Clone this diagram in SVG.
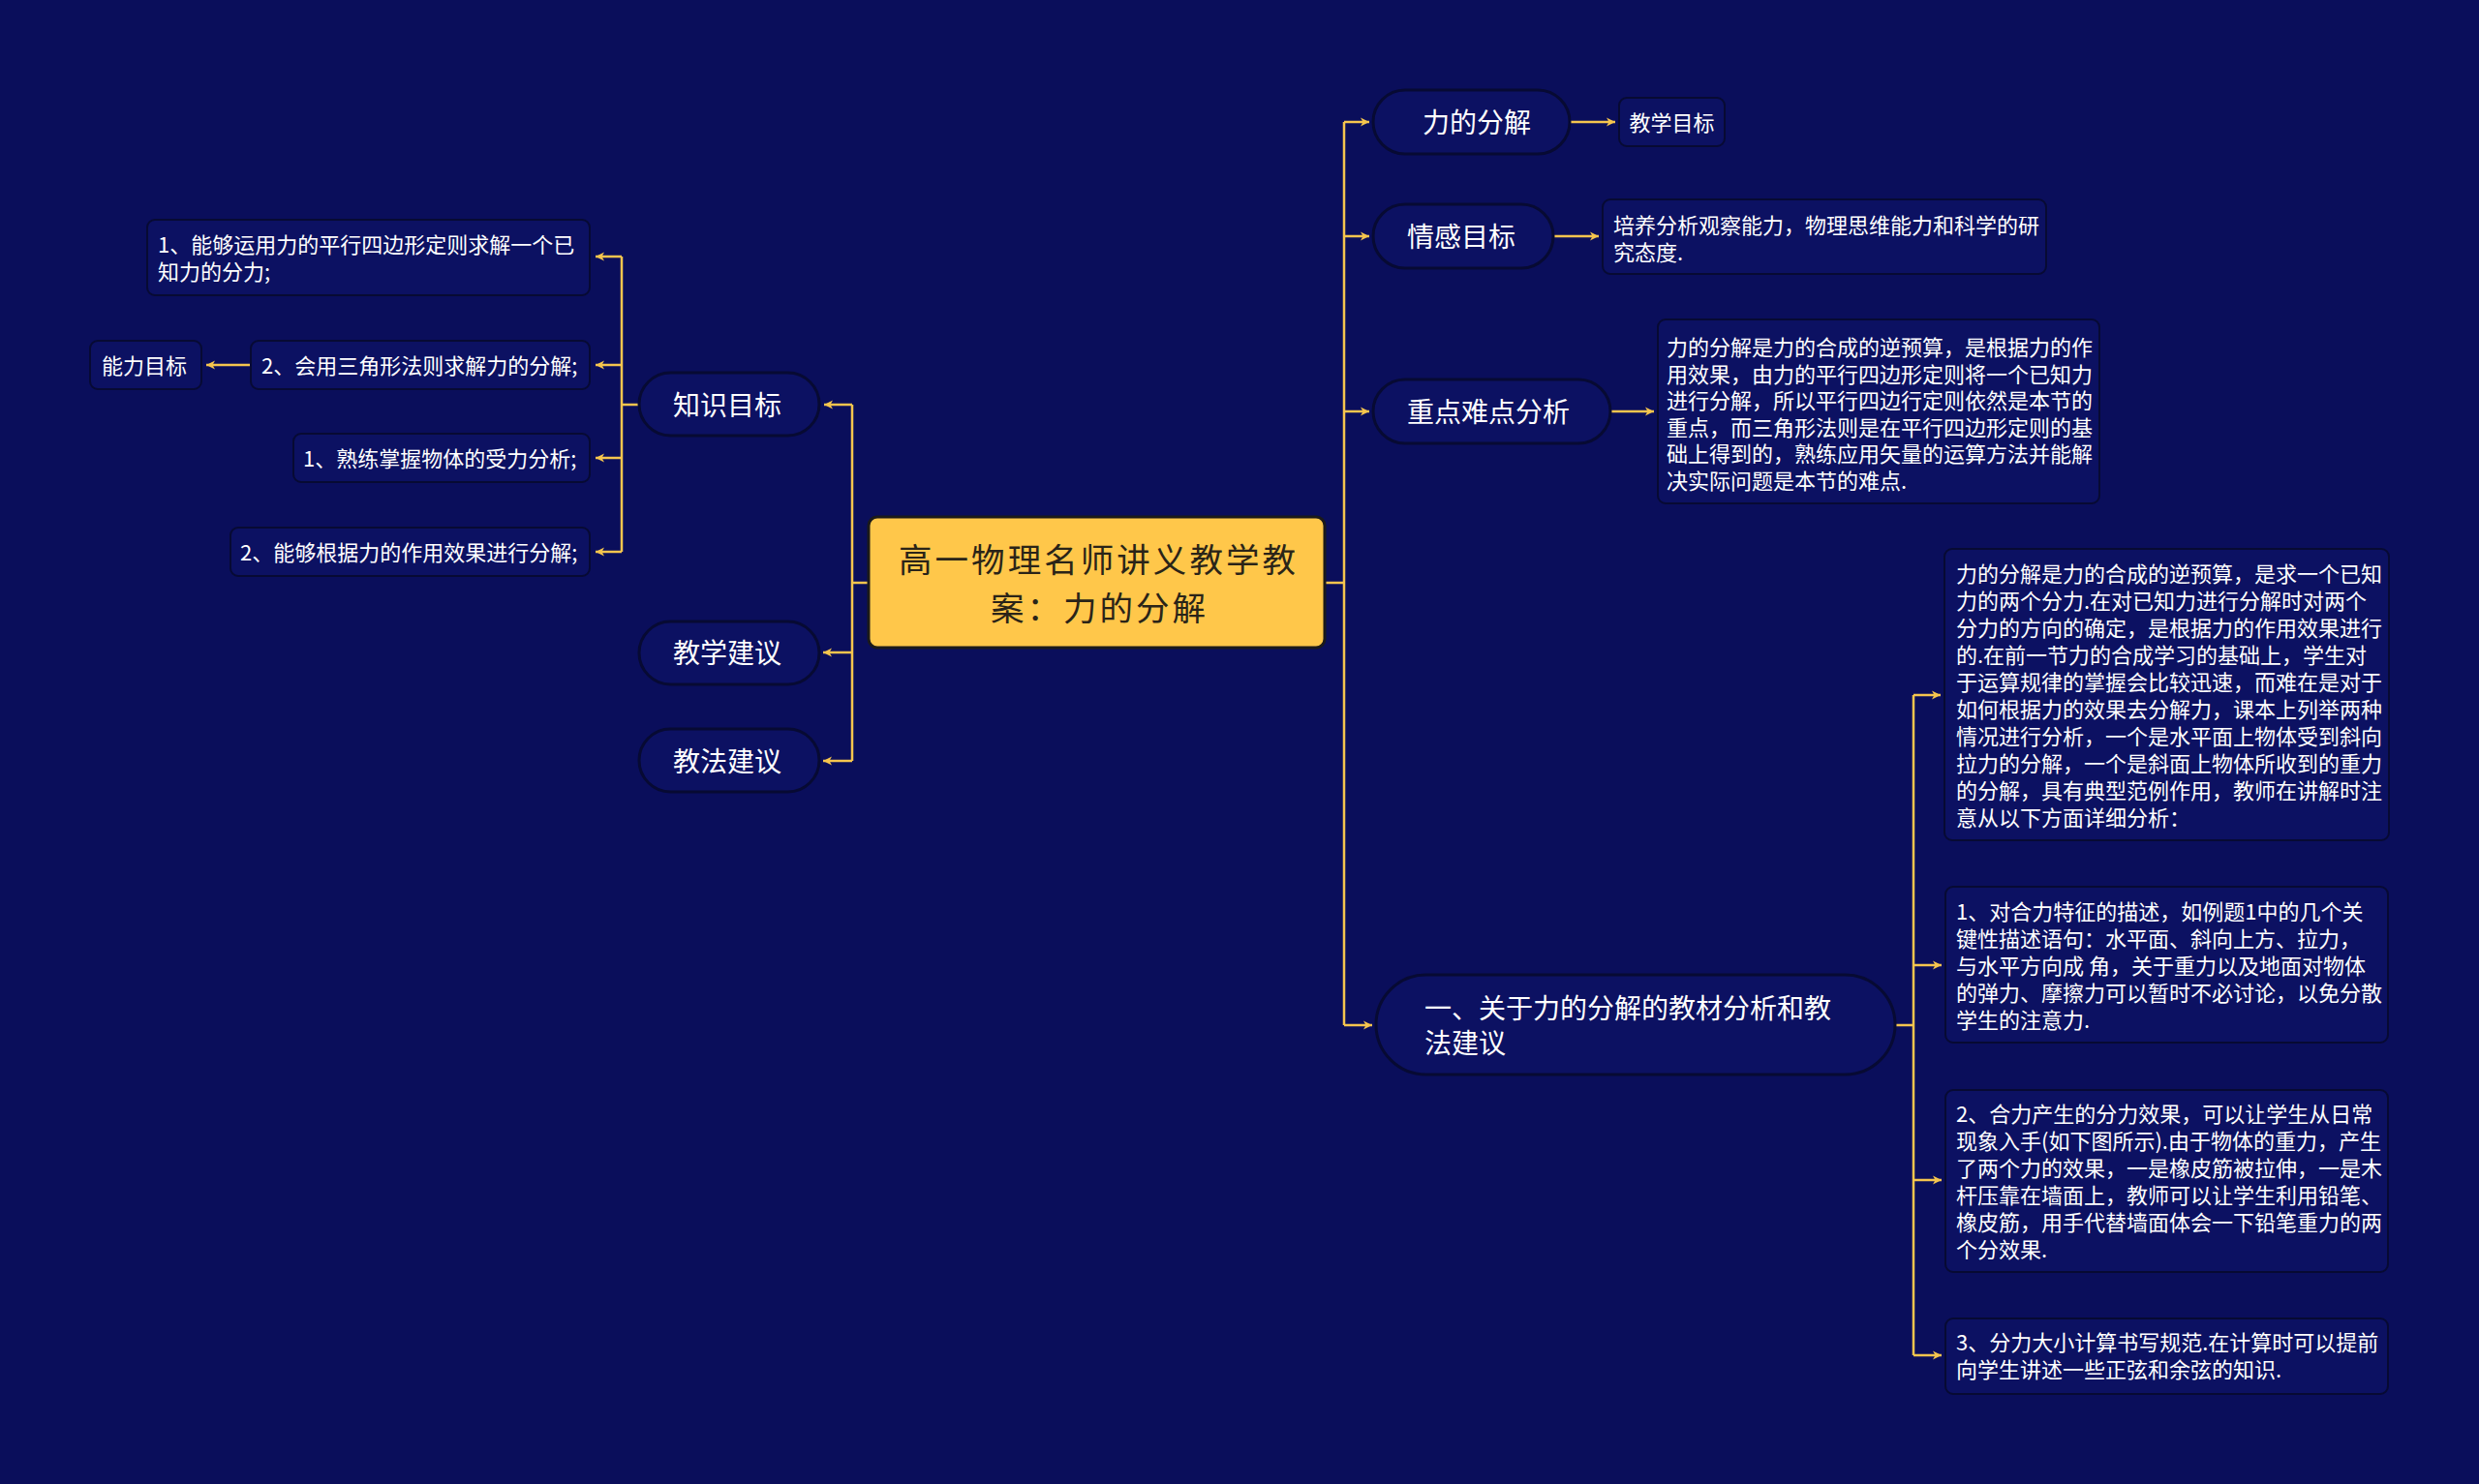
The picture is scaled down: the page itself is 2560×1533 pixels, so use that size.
<svg xmlns="http://www.w3.org/2000/svg" width="2560" height="1533" viewBox="0 0 2560 1533">
<defs>
<style>
text{font-family:"Noto Sans CJK SC","Microsoft YaHei",sans-serif;fill:#ffffff;dominant-baseline:central}
.pill{fill:#0c1162;stroke:#070a33;stroke-width:3}
.leaf{fill:#0c1162;stroke:#070a33;stroke-width:2}
.main{fill:#ffc74a;stroke:#1b1a1a;stroke-width:3}
.pt{font-size:28px;text-anchor:middle}
.ps{font-size:28px;text-anchor:start}
.lt{font-size:22px}
.mt{font-size:34.5px;text-anchor:middle;fill:#2a2418}
.c{fill:none;stroke:#f5c54e;stroke-width:2.5}
.a{fill:none;stroke:#f5c54e;stroke-width:2.5;marker-end:url(#arr)}
</style>
<marker id="arr" markerUnits="userSpaceOnUse" markerWidth="12" markerHeight="12" refX="10" refY="6" orient="auto">
<path d="M1,1.5 L10,6 L1,10.5 L3.5,6 Z" fill="#f5c54e"/>
</marker>
</defs>
<rect width="2560" height="1533" fill="#0a0e5b"/>

<g id="connectors">
<path class="c" d="M897 602 H880 M880 418 V786"/>
<path class="a" d="M880 418 H851"/>
<path class="a" d="M880 674 H850"/>
<path class="a" d="M880 786 H850"/>
<path class="c" d="M660 418 H642 M642 265 V570"/>
<path class="a" d="M642 265 H615"/>
<path class="a" d="M642 377 H615"/>
<path class="a" d="M642 473 H615"/>
<path class="a" d="M642 570 H615"/>
<path class="a" d="M259 377 H213"/>
<path class="c" d="M1368 602 H1388 M1388 126 V1059"/>
<path class="a" d="M1388 126 H1414"/>
<path class="a" d="M1388 244 H1414"/>
<path class="a" d="M1388 425 H1414"/>
<path class="a" d="M1388 1059 H1417"/>
<path class="a" d="M1621 126 H1668"/>
<path class="a" d="M1604 244 H1651"/>
<path class="a" d="M1663 425 H1708"/>
<path class="c" d="M1957 1059 H1976 M1976 718 V1400"/>
<path class="a" d="M1976 718 H2004"/>
<path class="a" d="M1976 997 H2005"/>
<path class="a" d="M1976 1219 H2005"/>
<path class="a" d="M1976 1400 H2005"/>
</g>

<g id="root">
<rect class="main" x="897" y="534" width="471" height="135" rx="9"/>
<text class="mt" x="1133" y="576" textLength="410" lengthAdjust="spacing">高一物理名师讲义教学教</text>
<text class="mt" x="1134" y="626" textLength="222" lengthAdjust="spacing">案：力的分解</text>
</g>

<g id="zhishimubiao">
<rect class="pill" x="660" y="385" width="186" height="65" rx="32.5"/>
<text class="pt" x="751" y="417">知识目标</text>
</g>
<g id="jiaoxuejianyi">
<rect class="pill" x="660" y="642" width="186" height="65" rx="32.5"/>
<text class="pt" x="751" y="673">教学建议</text>
</g>
<g id="jiaofajianyi">
<rect class="pill" x="660" y="753" width="186" height="65" rx="32.5"/>
<text class="pt" x="751" y="785">教法建议</text>
</g>

<g id="k1">
<rect class="leaf" x="152" y="227" width="457" height="78" rx="8"/>
<text class="lt" x="163" y="251">1、能够运用力的平行四边形定则求解一个已</text>
<text class="lt" x="163" y="279">知力的分力;</text>
</g>
<g id="k2">
<rect class="leaf" x="259" y="352" width="350" height="50" rx="8"/>
<text class="lt" x="270" y="376">2、会用三角形法则求解力的分解;</text>
</g>
<g id="nengli">
<rect class="leaf" x="93" y="352" width="115" height="50" rx="8"/>
<text class="lt" x="149" y="376" text-anchor="middle">能力目标</text>
</g>
<g id="k3">
<rect class="leaf" x="303" y="448" width="306" height="50" rx="8"/>
<text class="lt" x="313" y="472">1、熟练掌握物体的受力分析;</text>
</g>
<g id="k4">
<rect class="leaf" x="238" y="545" width="371" height="50" rx="8"/>
<text class="lt" x="248" y="569">2、能够根据力的作用效果进行分解;</text>
</g>

<g id="lidefenjie">
<rect class="pill" x="1418" y="93" width="203" height="66" rx="33"/>
<text class="pt" x="1525" y="125">力的分解</text>
</g>
<g id="jiaoxuemubiao">
<rect class="leaf" x="1672" y="101" width="109" height="50" rx="8"/>
<text class="lt" x="1726.5" y="125" text-anchor="middle">教学目标</text>
</g>

<g id="qinggan">
<rect class="pill" x="1418" y="211" width="186" height="66" rx="33"/>
<text class="pt" x="1509" y="243">情感目标</text>
</g>
<g id="qinggan-leaf">
<rect class="leaf" x="1655" y="206" width="458" height="77" rx="8"/>
<text class="lt" x="1666" y="231">培养分析观察能力，物理思维能力和科学的研</text>
<text class="lt" x="1666" y="259">究态度.</text>
</g>

<g id="zhongdian">
<rect class="pill" x="1418" y="392" width="245" height="66" rx="33"/>
<text class="pt" x="1537" y="424">重点难点分析</text>
</g>
<g id="zhongdian-leaf">
<rect class="leaf" x="1712" y="330" width="456" height="190" rx="8"/>
<text class="lt" x="1721" y="357">力的分解是力的合成的逆预算，是根据力的作</text>
<text class="lt" x="1721" y="384.5">用效果，由力的平行四边形定则将一个已知力</text>
<text class="lt" x="1721" y="412">进行分解，所以平行四边行定则依然是本节的</text>
<text class="lt" x="1721" y="439.5">重点，而三角形法则是在平行四边形定则的基</text>
<text class="lt" x="1721" y="467">础上得到的，熟练应用矢量的运算方法并能解</text>
<text class="lt" x="1721" y="494.5">决实际问题是本节的难点.</text>
</g>

<g id="jiaocai">
<rect class="pill" x="1421" y="1007" width="536" height="103" rx="51.5"/>
<text class="ps" x="1471" y="1040">一、关于力的分解的教材分析和教</text>
<text class="ps" x="1471" y="1076">法建议</text>
</g>
<g id="r1">
<rect class="leaf" x="2008" y="567" width="459" height="301" rx="8"/>
<text class="lt" x="2020" y="591">力的分解是力的合成的逆预算，是求一个已知</text>
<text class="lt" x="2020" y="619">力的两个分力.在对已知力进行分解时对两个</text>
<text class="lt" x="2020" y="647">分力的方向的确定，是根据力的作用效果进行</text>
<text class="lt" x="2020" y="675">的.在前一节力的合成学习的基础上，学生对</text>
<text class="lt" x="2020" y="703">于运算规律的掌握会比较迅速，而难在是对于</text>
<text class="lt" x="2020" y="731">如何根据力的效果去分解力，课本上列举两种</text>
<text class="lt" x="2020" y="759">情况进行分析，一个是水平面上物体受到斜向</text>
<text class="lt" x="2020" y="787">拉力的分解，一个是斜面上物体所收到的重力</text>
<text class="lt" x="2020" y="815">的分解，具有典型范例作用，教师在讲解时注</text>
<text class="lt" x="2020" y="843">意从以下方面详细分析：</text>
</g>
<g id="r2">
<rect class="leaf" x="2009" y="916" width="457" height="161" rx="8"/>
<text class="lt" x="2020" y="940">1、对合力特征的描述，如例题1中的几个关</text>
<text class="lt" x="2020" y="968">键性描述语句：水平面、斜向上方、拉力，</text>
<text class="lt" x="2020" y="996">与水平方向成 角，关于重力以及地面对物体</text>
<text class="lt" x="2020" y="1024">的弹力、摩擦力可以暂时不必讨论，以免分散</text>
<text class="lt" x="2020" y="1052">学生的注意力.</text>
</g>
<g id="r3">
<rect class="leaf" x="2009" y="1126" width="457" height="188" rx="8"/>
<text class="lt" x="2020" y="1149">2、合力产生的分力效果，可以让学生从日常</text>
<text class="lt" x="2020" y="1177">现象入手(如下图所示).由于物体的重力，产生</text>
<text class="lt" x="2020" y="1205">了两个力的效果，一是橡皮筋被拉伸，一是木</text>
<text class="lt" x="2020" y="1233">杆压靠在墙面上，教师可以让学生利用铅笔、</text>
<text class="lt" x="2020" y="1261">橡皮筋，用手代替墙面体会一下铅笔重力的两</text>
<text class="lt" x="2020" y="1289">个分效果.</text>
</g>
<g id="r4">
<rect class="leaf" x="2009" y="1362" width="457" height="78" rx="8"/>
<text class="lt" x="2020" y="1385">3、分力大小计算书写规范.在计算时可以提前</text>
<text class="lt" x="2020" y="1413">向学生讲述一些正弦和余弦的知识.</text>
</g>
</svg>
